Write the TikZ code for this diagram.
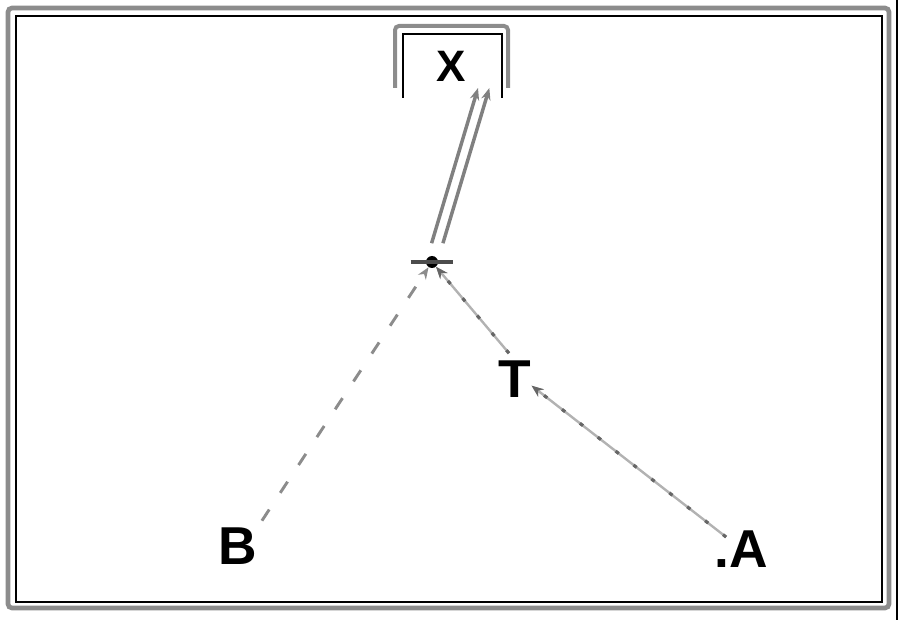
\documentclass[tikz,border=0pt]{standalone}
\usepackage{fontspec}
\setmainfont{Liberation Sans}
\usetikzlibrary{arrows.meta}
\begin{document}
\begin{tikzpicture}[x=0.75pt,y=-0.75pt,
  lbl/.style={font=\fontsize{40}{44}\selectfont\bfseries, inner sep=0pt},
  lblx/.style={font=\fontsize{33}{36}\selectfont\bfseries, inner sep=0pt},
  tip/.style={-{Stealth[length=9pt,width=7pt]}},
  bline/.style={draw=black!45, line width=2.2pt, dash pattern=on 10pt off 15pt},
  gline/.style={draw=black!30, line width=1.8pt,
     postaction={draw=black!60, line width=2.4pt, dash pattern=on 3pt off 14pt}},
  dbl/.style={draw=black!50, line width=2.6pt},
  junc/.style={circle, fill=black, inner sep=0pt, minimum size=9pt}]
\useasboundingbox (0,0) rectangle (900,620);
% frame
\draw[black!45, line width=3.5pt, rounded corners=3pt] (8,8) rectangle (889,608);
\draw[black, line width=1.6pt] (16,16) rectangle (882,602);
\draw[black, line width=1.2pt] (897,0) -- (897,620);
% bracket round X
\draw[black!45, line width=3pt, rounded corners=3pt] (395,88) -- (395,26) -- (508,26) -- (508,88);
\draw[black, line width=1.6pt] (403,98) -- (403,34) -- (502,34) -- (502,98);
% nodes
\node[lblx] (X) at (451,66) {X};
\node[lbl] (B) at (238,546) {B};
\node[lbl] (T) at (515,379) {T};
\node[lbl, anchor=east] (A) at (768,549) {.A};
\node[junc] (J) at (432,262) {};
\coordinate (xt) at (484,88);
% junction bar
\draw[black!70, line width=2.5pt] ([xshift=-16pt]J.center) -- ([xshift=16pt]J.center);
% connectors
\draw[bline, tip, shorten <=6pt] (B.north east) -- (J);
\draw[gline, tip, shorten <=7pt] (T.north) -- (J);
\draw[gline, tip] ([xshift=9pt,yshift=-5pt]A.north west) -- ([yshift=-5pt]T.east);
\draw[dbl, tip, shorten <=10pt, transform canvas={xshift=-4.5pt}] (J) -- (xt);
\draw[dbl, tip, shorten <=10pt, transform canvas={xshift=4pt}] (J) -- (xt);
\end{tikzpicture}
\end{document}
